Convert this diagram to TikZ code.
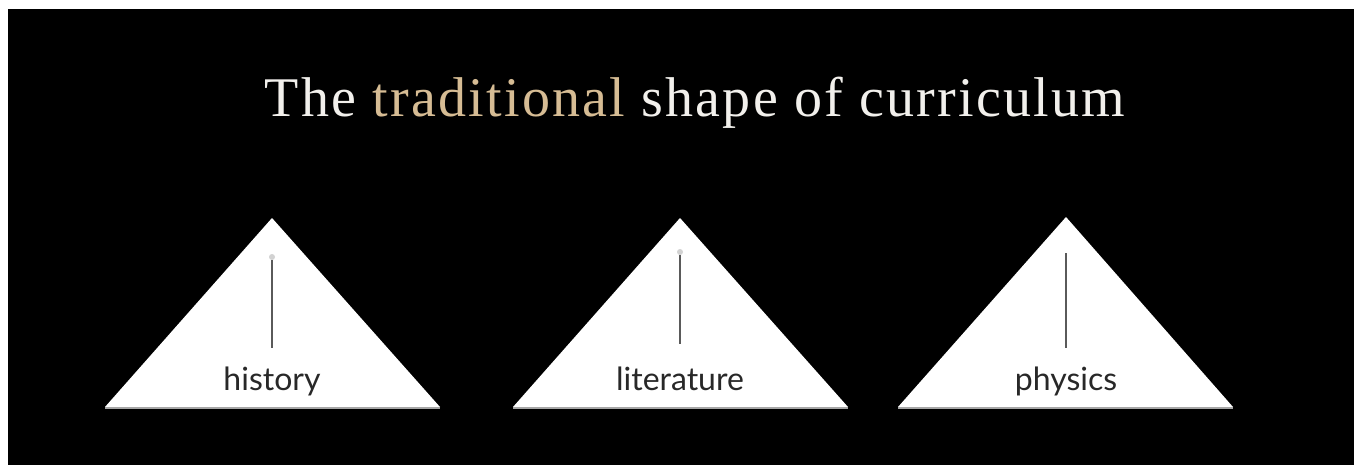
\documentclass[tikz,border=0pt]{standalone}
\usepackage{fontspec}
\setmainfont{Liberation Serif}
\newfontfamily\labelfont{Lato}
\newfontfamily\titlefont[LetterSpace=4]{Liberation Serif}
\usetikzlibrary{positioning}
\definecolor{titlewhite}{RGB}{242,240,236}
\definecolor{tradgold}{RGB}{214,188,148}
\definecolor{pingray}{RGB}{90,90,90}
\definecolor{labelgray}{RGB}{40,40,40}

\begin{document}
\begin{tikzpicture}[x=1pt, y=-1pt,
    title/.style={text=titlewhite, font=\titlefont\fontsize{56}{64}\selectfont, inner sep=0pt, anchor=base},
    subject/.style={text=labelgray, font=\labelfont\fontsize{32}{38}\selectfont, inner sep=0pt, anchor=base},
    pyramid/.style={fill=white},
    baseline shadow/.style={draw=gray!70, line width=1.5pt},
    pin/.style={draw=pingray, line width=1.3pt},
    pinhead/.style={circle, fill=gray!35, inner sep=0pt, minimum size=6pt}
  ]
    \useasboundingbox (0,0) rectangle (1354,465);
    \fill[white] (0,0) rectangle (1354,465);
    \fill[black] (8,9) rectangle (1354,465);

    \node[title] (title) at (695,117) {The {\color{tradgold}traditional} shape of curriculum};

    % history
    \fill[pyramid] (105,407) -- (272,218) -- (440,407) -- cycle;
    \draw[baseline shadow] (105,408) -- (440,408);
    \node[subject] (history) at (272,390) {history};
    \node[pinhead] (histhead) at (272,257) {};
    \draw[pin, shorten >=18pt] (histhead) -- (history.north);

    % literature
    \fill[pyramid] (513,407) -- (680,218) -- (848,407) -- cycle;
    \draw[baseline shadow] (513,408) -- (848,408);
    \node[subject] (literature) at (680,390) {literature};
    \node[pinhead] (litehead) at (680,252) {};
    \draw[pin, shorten >=22pt] (litehead) -- (literature.north);

    % physics
    \fill[pyramid] (898,407) -- (1066,217) -- (1233,407) -- cycle;
    \draw[baseline shadow] (898,408) -- (1233,408);
    \node[subject] (physics) at (1066,390) {physics};
    \coordinate (physhead) at (1066,253);
    \draw[pin, shorten >=18pt] (physhead) -- (physics.north);
  \end{tikzpicture}
\end{document}
